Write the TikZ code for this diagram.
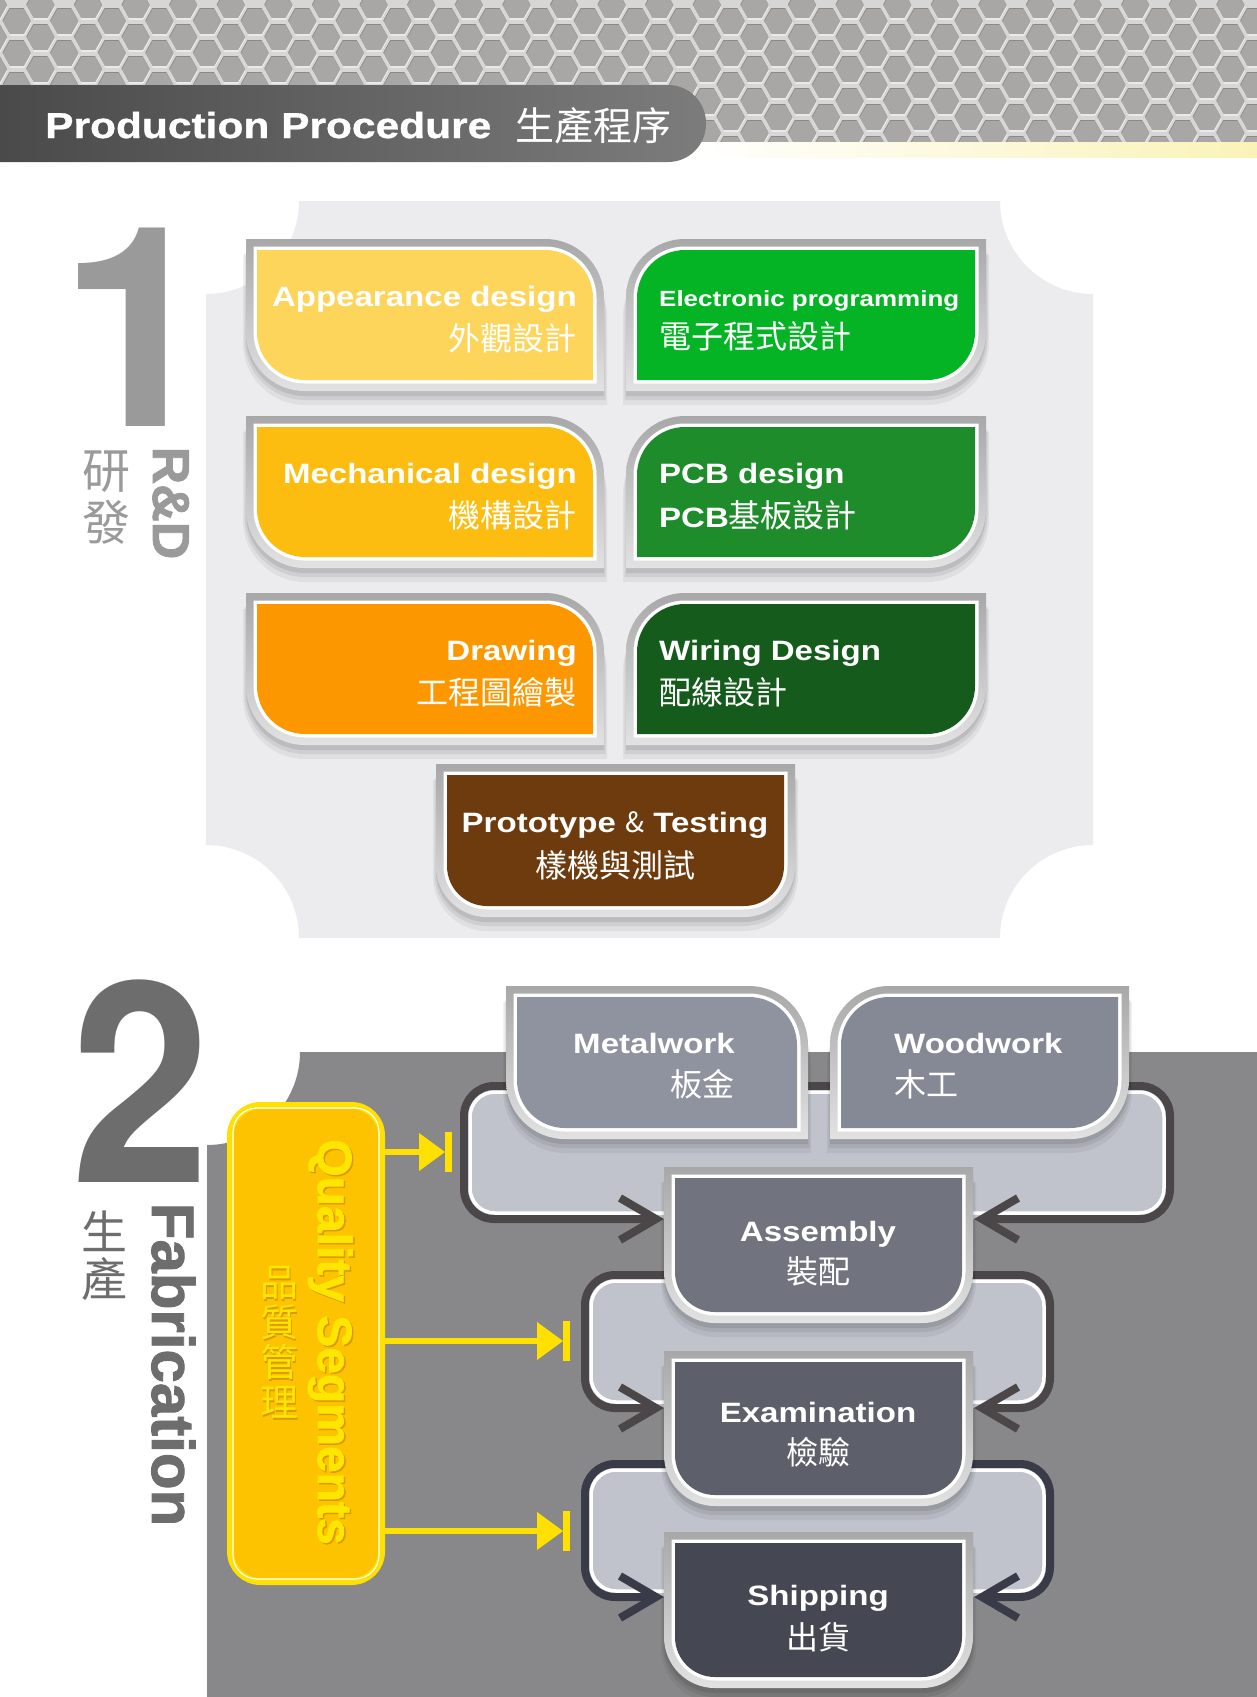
\documentclass[tikz,border=0pt]{standalone}
\usepackage{graphicx}
\usepackage{fontspec}
\setmainfont{Liberation Sans}
\newfontfamily\enfont[UprightFont={* Bold},FakeStretch=1.18]{Liberation Sans}
\newfontfamily\enhead[UprightFont={* Bold},FakeStretch=1.18,FakeBold=1]{Liberation Sans}
\newfontfamily\enbfont[UprightFont={* Bold}]{Liberation Sans}
\newfontfamily\enheavy[UprightFont={* Bold},FakeBold=1.5]{Liberation Sans}
\newfontfamily\digfont[UprightFont={* Bold}]{TeX Gyre Heros}
\newfontfamily\cjkfont{Noto Sans CJK TC}

\definecolor{web}{HTML}{D6D6D6}
\definecolor{hexc}{HTML}{A9A7A5}
\definecolor{hexsh}{HTML}{8C8A88}
\definecolor{hexhi}{HTML}{F4F4F4}
\definecolor{hdl}{HTML}{4A4A4A}
\definecolor{hdr}{HTML}{7C7C7C}
\definecolor{band}{HTML}{FAF3B8}
\definecolor{panel}{HTML}{ECECEE}
\definecolor{numa}{HTML}{9A9A9A}
\definecolor{numb}{HTML}{6D6D6D}
\definecolor{frtop}{HTML}{A8A8A8}
\definecolor{frbot}{HTML}{E2E2E2}
\definecolor{cApp}{HTML}{FDD55B}
\definecolor{cEle}{HTML}{05B424}
\definecolor{cMec}{HTML}{FDBD10}
\definecolor{cPcb}{HTML}{1F8C2B}
\definecolor{cDrw}{HTML}{FD9700}
\definecolor{cWir}{HTML}{155B1B}
\definecolor{cPro}{HTML}{6E3B0F}
\definecolor{fabbg}{HTML}{88888A}
\definecolor{cMet}{HTML}{8F929F}
\definecolor{cWoo}{HTML}{858895}
\definecolor{cAsm}{HTML}{71747F}
\definecolor{cExa}{HTML}{5D606B}
\definecolor{cShp}{HTML}{454853}
\definecolor{loopfill}{HTML}{C0C2CC}
\definecolor{loopa}{HTML}{4B4748}
\definecolor{loopb}{HTML}{393B49}
\definecolor{qfill}{HTML}{FDC200}
\definecolor{qline}{HTML}{FFE000}
\definecolor{qtext}{HTML}{FFE600}
\definecolor{qshadow}{HTML}{D99A00}

% rectangle path with individual corner radii: x1 y1 x2 y2 rTL rTR rBR rBL (y downwards)
\newcommand\rr[8]{({(#1)+(#5)},{#2}) -- ({(#3)-(#6)},{#2}) .. controls ({(#3)-0.4477*(#6)},{#2}) and ({#3},{(#2)+0.4477*(#6)}) .. ({#3},{(#2)+(#6)}) -- ({#3},{(#4)-(#7)}) .. controls ({#3},{(#4)-0.4477*(#7)}) and ({(#3)-0.4477*(#7)},{#4}) .. ({(#3)-(#7)},{#4}) -- ({(#1)+(#8)},{#4}) .. controls ({(#1)+0.4477*(#8)},{#4}) and ({#1},{(#4)-0.4477*(#8)}) .. ({#1},{(#4)-(#8)}) -- ({#1},{(#2)+(#5)}) .. controls ({#1},{(#2)+0.4477*(#5)}) and ({(#1)+0.4477*(#5)},{#2}) .. ({(#1)+(#5)},{#2}) -- cycle}

\newcommand\lay[8]{%
  \pgfmathsetmacro\lxa{(#1)-(#5)}%
  \pgfmathsetmacro\lya{(#2)-(#6)}%
  \pgfmathsetmacro\lxb{(#3)+(#5)}%
  \pgfmathsetmacro\lyb{(#4)+(#7)}%
  \pgfmathsetmacro\lra{\ra>0?\ra+(#5):0}%
  \pgfmathsetmacro\lrb{\rb>0?\rb+(#5):0}%
  \pgfmathsetmacro\lrc{\rc>0?\rc+(#5):0}%
  \pgfmathsetmacro\lrd{\rd>0?\rd+(#5):0}%
  \path[#8] \rr{\lxa}{\lya}{\lxb}{\lyb}{\lra}{\lrb}{\lrc}{\lrd};}

% process box: type (L/R/U), x1, y1, x2, y2, fill colour, node name
\newcommand\pbox[7]{%
  \def\ra{0}\def\rb{0}\def\rc{0}\def\rd{0}%
  \if L#1\def\rb{48}\def\rd{48}\fi
  \if R#1\def\ra{48}\def\rc{48}\fi
  \if U#1\def\rc{40}\def\rd{40}\fi
  \lay{#2}{#3}{#4}{#5}{14}{-5}{25}{fill=black,fill opacity=0.05}%
  \lay{#2}{#3}{#4}{#5}{12.5}{-3}{20}{fill=black,fill opacity=0.07}%
  \lay{#2}{#3}{#4}{#5}{11}{0}{16}{fill=black,fill opacity=0.09}%
  \lay{#2}{#3}{#4}{#5}{11}{11}{11}{top color=frtop,bottom color=frbot}%
  \lay{#2}{#3}{#4}{#5}{3.5}{3.5}{3.5}{fill=white}%
  \lay{#2}{#3}{#4}{#5}{0}{0}{0}{fill=#6}%
  \pgfmathsetmacro\bw{(#4)-(#2)}\pgfmathsetmacro\bh{(#5)-(#3)}%
  \pgfmathsetmacro\bx{((#2)+(#4))/2}\pgfmathsetmacro\by{((#3)+(#5))/2}%
  \node[inner sep=0pt,minimum width=\bw pt,minimum height=\bh pt] (#7) at (\bx,\by) {};}

\newcommand\hexpath[3]{\fill[#3] ({#1-14},{#2}) -- ({#1-7},{#2-12.5}) -- ({#1+7},{#2-12.5}) -- ({#1+14},{#2}) -- ({#1+7},{#2+12.5}) -- ({#1-7},{#2+12.5}) -- cycle;}
\newcommand\hexat[2]{%
  \hexpath{#1+0.6}{#2+2.0}{hexhi}%
  \hexpath{#1}{#2-0.5}{hexsh}%
  \hexpath{#1+0.3}{#2+0.7}{hexc}}

\newcommand\ENt{\enfont\fontsize{28}{30}\selectfont}

\tikzset{
  lblen/.style={inner sep=0pt, text=white, font=\enfont\fontsize{28}{30}\selectfont},
  lblsm/.style={inner sep=0pt, text=white, font=\enfont\fontsize{22}{24}\selectfont},
  lblzh/.style={inner sep=0pt, text=white, font=\cjkfont\fontsize{32}{34}\selectfont},
  sidezh/.style={inner sep=0pt, anchor=base, text height=34pt, text depth=5pt},
  loopfillst/.style={fill=loopfill, rounded corners=30pt},
  loopwhite/.style={draw=white, line width=3.5pt, rounded corners=25pt},
  loopline/.style={line width=8pt, rounded corners=30pt},
  chev/.style={line width=8pt, miter limit=10},
  ybar/.style={qline, line width=6pt},
  qzh/.style={inner sep=0pt, anchor=base, text height=28pt, text depth=4pt, font=\cjkfont\fontsize{38}{38}\selectfont},
}

\begin{document}
\begin{tikzpicture}[x=1pt,y=-1pt]
\useasboundingbox (0,0) rectangle (1257,1697);
\fill[white] (0,0) rectangle (1257,1697);

% ---------- hexagon texture ----------
\begin{scope}
  \clip (0,0) rectangle (1257,142);
  \fill[web] (0,0) rectangle (1257,142);
  \foreach \k in {0,...,27}{
    \foreach \j in {0,...,4}{
      \pgfmathsetmacro\hx{-7.3+47.6*\k}\pgfmathsetmacro\hy{5+32*\j}
      \hexat{\hx}{\hy}
      \pgfmathsetmacro\hx{16.5+47.6*\k}\pgfmathsetmacro\hy{21+32*\j}
      \hexat{\hx}{\hy}
    }}
\end{scope}
\shade[left color=white, right color=band] (690,142) rectangle (1257,157);

% ---------- header ----------
\shade[left color=hdl, right color=hdr] \rr{0}{85}{706}{162}{0}{38}{38}{0};
\node[inner sep=0pt, anchor=base west, text=white, font=\enhead\fontsize{36}{38}\selectfont] (hden) at (45,138) {Production Procedure};
\node[inner sep=0pt, anchor=base west, text=white, font=\cjkfont\fontsize{39}{40}\selectfont] (hdzh) at (515,140) {生產程序};

% ---------- section 1 ----------
\fill[panel] (299,201) -- (1000,201) .. controls (1000,252.4) and (1041.6,294) .. (1093,294)
  -- (1093,845) .. controls (1041.6,845) and (1000,886.4) .. (1000,938)
  -- (299,938) .. controls (299,886.4) and (257.4,845) .. (206,845)
  -- (206,294) .. controls (257.4,294) and (299,252.4) .. (299,201) -- cycle;

\node[inner sep=0pt, anchor=base west, text height=200pt, text depth=0pt, text=numa, font=\digfont\fontsize{280}{280}\selectfont] (num1) at (59,426) {1};
\node[sidezh, text=numa, font=\cjkfont\fontsize{48}{48}\selectfont] (rdzh1) at (106,488) {研};
\node[sidezh, text=numa, font=\cjkfont\fontsize{48}{48}\selectfont] (rdzh2) at (106,540) {發};
\node[inner sep=0pt, anchor=base, rotate=-90, text=numa, font=\enheavy\fontsize{52}{52}\selectfont] (rden) at (153,503) {R\&D};

\pbox{L}{257}{250}{593}{380}{cApp}{app}
\pbox{R}{637}{250}{975}{380}{cEle}{ele}
\pbox{L}{257}{427}{593}{557}{cMec}{mec}
\pbox{R}{637}{427}{975}{557}{cPcb}{pcb}
\pbox{L}{257}{604}{593}{734}{cDrw}{drw}
\pbox{R}{637}{604}{975}{734}{cWir}{wir}
\pbox{U}{447}{775}{784}{906}{cPro}{pro}

\node[lblen, anchor=base east] (appen) at (577,306) {Appearance design};
\node[lblzh, anchor=base east] (appzh) at (577,350) {外觀設計};
\node[lblsm, anchor=base west] (eleen) at (659,306) {Electronic programming};
\node[lblzh, anchor=base west] (elezh) at (659,348) {電子程式設計};
\node[lblen, anchor=base east] (mecen) at (577,483) {Mechanical design};
\node[lblzh, anchor=base east] (meczh) at (577,527) {機構設計};
\node[lblen, anchor=base west] (pcben) at (659,483) {PCB design};
\node[lblzh, anchor=base west] (pcbzh) at (659,527) {{\ENt PCB}基板設計};
\node[lblen, anchor=base east] (drwen) at (577,660) {Drawing};
\node[lblzh, anchor=base east] (drwzh) at (577,704) {工程圖繪製};
\node[lblen, anchor=base west] (wiren) at (659,660) {Wiring Design};
\node[lblzh, anchor=base west] (wirzh) at (659,704) {配線設計};
\node[lblen, anchor=base] (proen) at (615,832) {Prototype {\cjkfont\&} Testing};
\node[lblzh, anchor=base] (prozh) at (615,877) {樣機與測試};

% ---------- section 2 ----------
\fill[fabbg] (300,1052) -- (1257,1052) -- (1257,1697) -- (207,1697) -- (207,1145)
  .. controls (258.4,1145) and (300,1103.4) .. (300,1052) -- cycle;

\node[inner sep=0pt, anchor=base west, text height=200pt, text depth=0pt, text=numb, font=\digfont\fontsize{280}{280}\selectfont] (num2) at (71,1182) {\scalebox{0.89}[1]{2}};
\node[sidezh, text=numb, font=\cjkfont\fontsize{46}{46}\selectfont] (fbzh1) at (104,1249) {生};
\node[sidezh, text=numb, font=\cjkfont\fontsize{46}{46}\selectfont] (fbzh2) at (104,1296) {產};
\node[inner sep=0pt, anchor=base, rotate=-90, text=numb, font=\enheavy\fontsize{60}{60}\selectfont] (fben) at (152,1364.5) {Fabrication};

% loops (drawn behind the boxes)
\coordinate (l1L) at (656,1219); \coordinate (l1R) at (982,1219);
\coordinate (l2L) at (656,1408); \coordinate (l2R) at (982,1408);
\coordinate (l3L) at (656,1597); \coordinate (l3R) at (982,1597);

\fill[loopfillst] (464,1086) rectangle (1170,1219);
\draw[loopwhite] (470,1092) rectangle (1164,1213);
\draw[loopline, loopa] (l1L) -- (464,1219) -- (464,1086) -- (1170,1086) -- (1170,1219) -- (l1R);
\draw[chev, loopa] ([xshift=-36pt,yshift=21pt]l1L) -- (l1L) -- ([xshift=-36pt,yshift=-21pt]l1L);
\draw[chev, loopa] ([xshift=36pt,yshift=21pt]l1R) -- (l1R) -- ([xshift=36pt,yshift=-21pt]l1R);

\fill[loopfillst] (585,1275) rectangle (1050,1408);
\draw[loopwhite] (591,1281) rectangle (1044,1402);
\draw[loopline, loopa] (l2L) -- (585,1408) -- (585,1275) -- (1050,1275) -- (1050,1408) -- (l2R);
\draw[chev, loopa] ([xshift=-36pt,yshift=21pt]l2L) -- (l2L) -- ([xshift=-36pt,yshift=-21pt]l2L);
\draw[chev, loopa] ([xshift=36pt,yshift=21pt]l2R) -- (l2R) -- ([xshift=36pt,yshift=-21pt]l2R);

\fill[loopfillst] (585,1464) rectangle (1050,1597);
\draw[loopwhite] (591,1470) rectangle (1044,1591);
\draw[loopline, loopb] (l3L) -- (585,1597) -- (585,1464) -- (1050,1464) -- (1050,1597) -- (l3R);
\draw[chev, loopb] ([xshift=-36pt,yshift=21pt]l3L) -- (l3L) -- ([xshift=-36pt,yshift=-21pt]l3L);
\draw[chev, loopb] ([xshift=36pt,yshift=21pt]l3R) -- (l3R) -- ([xshift=36pt,yshift=-21pt]l3R);

\pbox{L}{517}{997}{797}{1128}{cMet}{met}
\pbox{R}{841}{997}{1118}{1128}{cWoo}{woo}
\pbox{U}{675}{1178}{962}{1312}{cAsm}{asm}
\pbox{U}{675}{1362}{962}{1495}{cExa}{exa}
\pbox{U}{675}{1543}{962}{1677}{cShp}{shp}

\node[lblen, anchor=base east] (meten) at (735,1053) {Metalwork};
\node[lblzh, anchor=base east] (metzh) at (735,1096) {板金};
\node[lblen, anchor=base west] (wooen) at (894,1053) {Woodwork};
\node[lblzh, anchor=base west] (woozh) at (894,1096) {木工};
\node[lblen, anchor=base] (asmen) at (818,1241) {Assembly};
\node[lblzh, anchor=base] (asmzh) at (818,1283) {裝配};
\node[lblen, anchor=base] (exaen) at (818,1422) {Examination};
\node[lblzh, anchor=base] (exazh) at (818,1464) {檢驗};
\node[lblen, anchor=base] (shpen) at (818,1605) {Shipping};
\node[lblzh, anchor=base] (shpzh) at (818,1649) {出貨};

% quality segments
\node[draw=qline, fill=qfill, line width=7pt, rounded corners=30pt, minimum width=151pt, minimum height=476pt, inner sep=0pt] (q) at (306,1343.5) {};
\draw[white, line width=1.2pt, rounded corners=24pt] ([xshift=6pt,yshift=-6pt]q.north west) rectangle ([xshift=-6pt,yshift=6pt]q.south east);
\node[inner sep=0pt, anchor=base, rotate=-90, text=qshadow, font=\enheavy\fontsize{48}{48}\selectfont] (qensh) at (319.5,1343.5) {Quality Segments};
\node[inner sep=0pt, anchor=base, rotate=-90, text=qtext, font=\enheavy\fontsize{48}{48}\selectfont] (qen) at (318,1342) {Quality Segments};
\foreach \c/\yy [count=\i] in {品/1296.5,質/1336.5,管/1376.5,理/1416.5}{
  \node[qzh, text=qshadow] (qzs\i) at (280.5,\yy+1.5) {\c};
  \node[qzh, text=qtext] (qz\i) at (279,\yy) {\c};
}

\coordinate (qa1) at (452,1152);
\coordinate (qa2) at (570,1341);
\coordinate (qa3) at (570,1531);
\foreach \a in {qa1,qa2,qa3}{
  \draw[ybar] (q.east |- \a) -- ([xshift=-30pt]\a);
  \fill[qline] ([xshift=-7pt]\a) -- ([xshift=-33pt,yshift=19pt]\a) -- ([xshift=-33pt,yshift=-19pt]\a) -- cycle;
  \fill[qline] ([xshift=-7pt,yshift=-20pt]\a) rectangle ([yshift=20pt]\a);
}
\end{tikzpicture}
\end{document}
